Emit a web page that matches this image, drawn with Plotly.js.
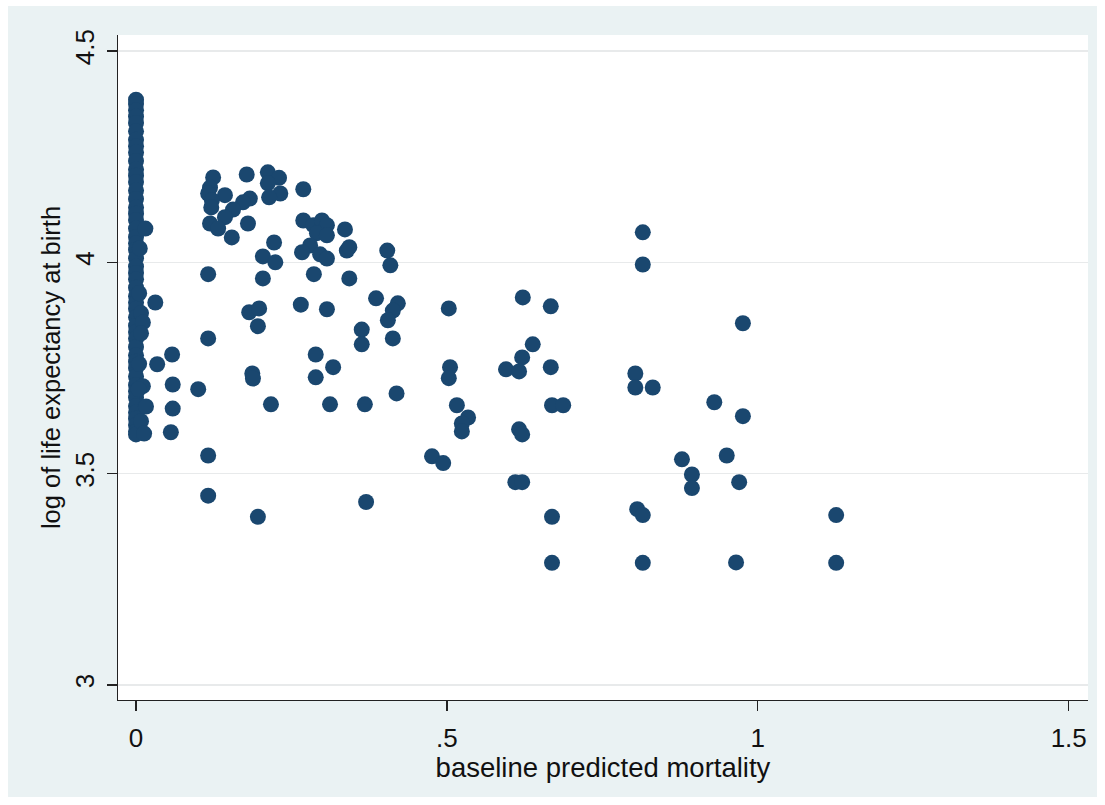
<!DOCTYPE html>
<html>
<head>
<meta charset="utf-8">
<script src="https://cdn.plot.ly/plotly-3.0.1.min.js"></script>
<style>html,body{margin:0;padding:0;background:#fff;}#chart{width:1105px;height:805px;}</style>
</head>
<body>
<div id="chart"></div>
<script>
// baseline predicted mortality (x) and log of life expectancy at birth (y)
const mortality = [
  0,0,0,0,0,0,0,0,0,0,0,0,0,0,0,0,0,0,0,0,0,0,0,0,
  0,0,0,0,0,0,0,0,0,0,0,0,0,0,0,0,0,0,0,0,0,0,0,0,
  0.015,0.006,0.005,0.008,0.011,0.008,0.011,0.016,0.008,0.013,0.004,0.005,
  0.031,0.058,0.034,0.059,0.100,0.059,0.056,
  0.116,0.204,0.116,0.116,0.116,0.182,0.198,0.196,0.187,0.188,0.217,0.196,0.265,
  0.124,0.119,0.116,0.143,0.122,0.121,0.178,0.212,0.230,0.212,0.232,0.214,0.183,0.172,
  0.156,0.143,0.119,0.132,0.180,0.154,
  0.269,0.269,0.285,0.299,0.307,0.291,0.307,0.336,0.280,0.267,0.296,0.307,0.339,0.343,
  0.222,0.204,0.224,0.404,0.409,0.286,0.343,0.386,0.421,0.413,0.405,0.413,0.307,
  0.363,0.363,0.289,0.317,0.289,0.312,0.368,0.370,0.419,
  0.503,0.622,0.667,0.638,0.621,0.595,0.616,0.667,0.505,0.503,0.516,0.534,0.524,0.524,
  0.616,0.621,0.669,0.687,0.803,0.803,0.831,0.476,0.494,0.610,0.621,0.669,0.669,
  0.806,0.815,0.815,0.878,0.894,0.894,0.815,0.815,0.976,0.930,0.976,0.950,0.970,0.965,
  1.126,1.126
];
const lnLifeExp = [
  4.385,4.375,4.36,4.345,4.33,4.31,4.29,4.275,4.26,4.24,4.22,4.205,4.19,4.17,4.15,4.13,
  4.115,4.10,4.08,4.06,4.045,4.03,4.01,3.99,3.975,3.96,3.94,3.92,3.905,3.89,3.87,3.85,
  3.835,3.82,3.80,3.78,3.765,3.75,3.73,3.71,3.695,3.68,3.66,3.645,3.63,3.615,3.60,3.593,
  4.080,4.033,3.927,3.880,3.858,3.832,3.707,3.659,3.624,3.595,3.700,3.760,
  3.905,3.782,3.759,3.711,3.700,3.654,3.598,
  3.972,3.962,3.820,3.543,3.448,3.882,3.891,3.849,3.737,3.725,3.664,3.398,3.900,
  4.201,4.177,4.163,4.159,4.147,4.130,4.208,4.213,4.200,4.187,4.163,4.154,4.151,4.142,
  4.125,4.107,4.092,4.080,4.092,4.059,
  4.173,4.099,4.088,4.099,4.088,4.069,4.064,4.078,4.040,4.024,4.019,4.009,4.028,4.036,
  4.047,4.014,4.000,4.028,3.993,3.972,3.962,3.915,3.903,3.886,3.863,3.820,3.889,
  3.841,3.806,3.782,3.752,3.728,3.664,3.664,3.433,3.690,
  3.891,3.917,3.896,3.806,3.775,3.747,3.742,3.752,3.752,3.726,3.662,3.633,3.619,3.600,
  3.605,3.593,3.662,3.662,3.737,3.704,3.704,3.541,3.525,3.480,3.480,3.398,3.289,
  3.416,3.402,3.289,3.534,3.498,3.466,4.071,3.995,3.856,3.669,3.636,3.543,3.480,3.290,
  3.402,3.289
];
const xTickVals = [0, 0.5, 1, 1.5];
const xTickText = ["0", ".5", "1", "1.5"];
const yTickVals = [3, 3.5, 4, 4.5];
const yTickText = ["3", "3.5", "4", "4.5"];

const FONT = "Liberation Sans, Arial, sans-serif";

const trace = {
  type: "scatter",
  mode: "markers",
  x: mortality,
  y: lnLifeExp,
  marker: {color: "#1a476f", size: 16, line: {width: 0}},
  hoverinfo: "x+y"
};

const layout = {
  width: 1105,
  height: 805,
  margin: {l: 118, r: 17, t: 35, b: 105, pad: 0},
  paper_bgcolor: "#ffffff",
  plot_bgcolor: "rgba(0,0,0,0)",
  showlegend: false,
  font: {family: FONT, color: "#111111", size: 26},
  shapes: [
    {type: "rect", xref: "paper", yref: "paper", x0: -0.1134, x1: 1.0093, y0: -0.1459, y1: 1.0436,
     fillcolor: "#eaf2f3", line: {width: 0}, layer: "below"},
    {type: "rect", xref: "paper", yref: "paper", x0: 0, x1: 1, y0: 0, y1: 1,
     fillcolor: "#ffffff", line: {width: 0}, layer: "below"}
  ],
  xaxis: {
    range: [-0.029, 1.531],
    tickmode: "array",
    tickvals: xTickVals,
    ticktext: xTickText,
    ticks: "outside",
    ticklen: 10,
    tickwidth: 1.3,
    tickcolor: "#222222",
    ticklabelstandoff: 4,
    showline: true,
    linecolor: "#222222",
    linewidth: 1.3,
    showgrid: false,
    zeroline: false,
    tickfont: {family: FONT, size: 26, color: "#111111"},
    title: {text: "baseline predicted mortality", font: {family: FONT, size: 27.5, color: "#111111"}, standoff: 0},
    automargin: false
  },
  yaxis: {
    range: [2.9645, 4.538],
    tickmode: "array",
    tickvals: yTickVals,
    ticktext: yTickText,
    tickangle: -90,
    ticks: "outside",
    ticklen: 10,
    tickwidth: 1.3,
    tickcolor: "#222222",
    ticklabelstandoff: 2,
    showline: true,
    linecolor: "#222222",
    linewidth: 1.3,
    showgrid: true,
    gridcolor: "#e8eaeb",
    gridwidth: 1.5,
    zeroline: false,
    tickfont: {family: FONT, size: 26, color: "#111111"},
    title: {text: "log of life expectancy at birth", font: {family: FONT, size: 25.5, color: "#111111"}, standoff: 2},
    automargin: false
  }
};

Plotly.newPlot("chart", [trace], layout, {displayModeBar: false, staticPlot: true});
</script>
</body>
</html>
